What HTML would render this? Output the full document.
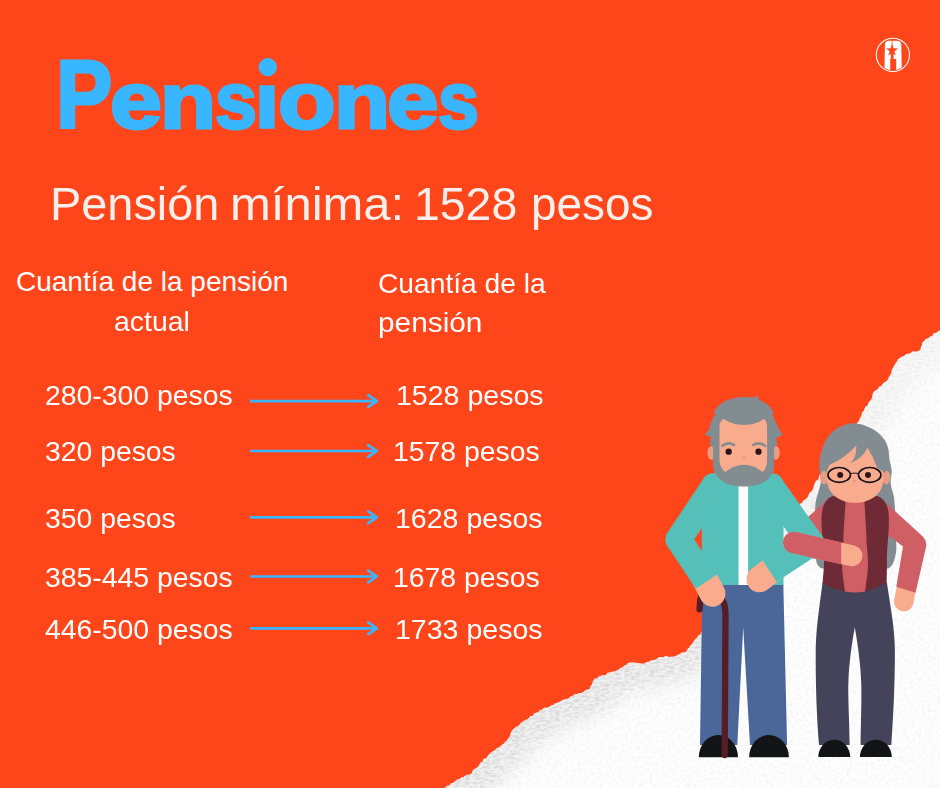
<!DOCTYPE html>
<html><head><meta charset="utf-8">
<style>
html,body{margin:0;padding:0;}
body{width:940px;height:788px;overflow:hidden;background:#ff451a;position:relative;font-family:"Liberation Sans",sans-serif;}
.t{position:absolute;white-space:nowrap;color:#fff;transform-origin:0 0;line-height:1;}
svg{position:absolute;left:0;top:0;}
#title{left:0;top:0;font-weight:bold;color:#38b6ff;-webkit-text-stroke:3px #38b6ff;}
#title span{position:absolute;line-height:1;}
#sub{left:0;top:0;font-size:46px;color:#f7efeb;}
#sub span{position:absolute;line-height:1;transform-origin:0 0;}
#h1a{left:16.0px;top:268.44px;font-size:28px;transform:scaleX(1.0);}
#h1b{left:114.47px;top:308.04px;font-size:28px;transform:scaleX(1.0143);}
#h2a{left:378.02px;top:268.92px;font-size:28.5px;transform:scaleX(0.9893);}
#h2b{left:377.92px;top:307.92px;font-size:28.5px;transform:scaleX(1.0458);}
#l1{left:44.5px;top:380.92px;font-size:28.5px;transform:scaleX(0.9958);}
#l2{left:44.51px;top:436.92px;font-size:28.5px;transform:scaleX(0.9938);}
#l3{left:44.51px;top:503.92px;font-size:28.5px;transform:scaleX(0.9938);}
#l4{left:44.5px;top:562.92px;font-size:28.5px;transform:scaleX(0.9958);}
#l5{left:44.5px;top:614.92px;font-size:28.5px;transform:scaleX(0.9958);}
#r1{left:395.51px;top:380.92px;font-size:28.5px;transform:scaleX(1.0015);}
#r2{left:393.01px;top:436.92px;font-size:28.5px;transform:scaleX(0.9959);}
#r3{left:395.49px;top:503.92px;font-size:28.5px;transform:scaleX(1.0014);}
#r4{left:393.01px;top:562.92px;font-size:28.5px;transform:scaleX(0.9959);}
#r5{left:395.49px;top:614.92px;font-size:28.5px;transform:scaleX(1.0014);}
</style></head><body>
<svg width="940" height="788" viewBox="0 0 940 788">
<defs>
<filter id="tex" x="0" y="0" width="940" height="788" filterUnits="userSpaceOnUse">
<feTurbulence type="fractalNoise" baseFrequency="0.32" numOctaves="3" seed="4" result="n"/>
<feColorMatrix in="n" type="matrix" values="0 0 0 0 0  0 0 0 0 0  0 0 0 0 0  2.2 0 0 0 -0.95" result="a"/>
<feComposite in="SourceGraphic" in2="a" operator="in"/>
</filter>
<filter id="tex2" x="0" y="0" width="940" height="788" filterUnits="userSpaceOnUse">
<feTurbulence type="fractalNoise" baseFrequency="0.2 0.45" numOctaves="3" seed="11" result="n"/>
<feColorMatrix in="n" type="matrix" values="0 0 0 0 0  0 0 0 0 0  0 0 0 0 0  3 0 0 0 -1.15" result="a"/>
<feComposite in="SourceGraphic" in2="a" operator="in"/>
</filter>
<filter id="blur8" x="0" y="0" width="940" height="788" filterUnits="userSpaceOnUse"><feGaussianBlur stdDeviation="9"/></filter>
<clipPath id="pc"><path d="M444.9 787.9 L446.7 786.1 L449.3 785.6 L450.8 783.4 L453.4 782.7 L455.3 781.1 L457.3 779.6 L459.6 779.1 L461.3 777.4 L463.7 777.1 L465.5 775.6 L467.6 774.7 L470.0 774.5 L472.0 773.2 L472.6 770.7 L474.3 769.1 L476.4 767.9 L478.4 766.6 L479.5 764.5 L480.8 762.6 L482.8 761.3 L483.7 758.8 L486.5 758.3 L487.6 756.0 L489.2 754.2 L491.0 752.6 L493.0 751.3 L495.2 750.2 L496.4 748.2 L498.7 747.5 L500.5 746.3 L502.0 744.7 L504.0 743.6 L505.3 741.6 L507.1 740.8 L508.0 738.6 L509.8 736.7 L510.4 734.3 L511.2 732.1 L512.5 730.1 L514.2 728.5 L515.8 726.9 L518.2 726.1 L519.9 724.6 L521.1 722.5 L523.3 721.5 L525.0 720.0 L527.2 719.4 L529.0 718.0 L530.4 716.1 L533.0 716.0 L534.0 713.5 L536.2 712.8 L538.4 712.1 L539.9 710.2 L542.2 709.5 L544.0 707.7 L546.7 707.8 L548.9 706.9 L551.0 705.6 L553.4 705.1 L555.2 703.2 L557.6 702.7 L559.8 701.7 L561.9 700.6 L564.0 699.4 L566.5 699.1 L568.8 698.2 L570.6 696.5 L572.9 695.8 L574.9 694.1 L577.3 694.0 L579.4 693.1 L581.7 692.9 L583.8 691.8 L585.6 690.0 L587.8 689.4 L590.1 688.8 L590.2 686.4 L591.9 684.7 L592.5 682.5 L593.4 680.4 L594.8 678.4 L597.3 678.3 L599.0 676.3 L601.3 675.7 L603.5 675.0 L606.0 674.9 L607.6 672.7 L610.0 672.5 L612.1 671.7 L614.4 671.5 L616.5 670.5 L618.6 669.8 L620.3 668.0 L622.4 667.4 L624.0 665.8 L626.3 665.0 L627.5 663.4 L630.0 662.5 L632.5 662.6 L635.0 662.8 L637.5 662.9 L640.0 663.5 L642.5 663.8 L644.9 663.6 L646.7 662.0 L649.1 661.7 L651.1 660.6 L653.3 660.0 L655.6 659.7 L657.5 658.3 L659.4 657.0 L661.7 657.1 L664.0 657.0 L666.2 655.8 L668.6 657.1 L670.9 656.8 L673.2 656.8 L675.5 656.2 L677.6 654.9 L679.9 654.0 L682.0 652.6 L684.7 652.5 L686.6 651.2 L687.6 649.1 L689.2 647.4 L690.5 645.6 L692.1 643.9 L693.4 642.0 L694.7 639.7 L696.7 637.9 L698.3 635.8 L700.5 634.2 L701.3 632.0 L703.8 631.1 L704.8 629.0 L705.5 626.7 L707.0 625.0 L708.5 623.4 L709.8 621.6 L710.8 619.5 L713.2 618.5 L714.8 616.9 L715.4 614.5 L716.7 612.7 L717.5 610.5 L718.9 608.7 L720.6 607.2 L721.8 605.3 L723.9 604.1 L724.3 601.6 L725.5 599.6 L728.2 598.8 L728.9 596.6 L729.7 594.4 L731.6 593.0 L732.2 590.7 L734.3 589.4 L736.3 588.1 L737.5 586.2 L738.6 584.2 L739.3 581.9 L740.8 580.2 L741.8 578.2 L744.0 577.1 L745.0 575.0 L746.7 573.5 L747.2 571.2 L748.3 569.3 L750.5 568.0 L752.0 566.4 L753.0 564.4 L754.2 562.6 L755.5 560.8 L756.6 558.9 L757.1 556.5 L758.8 555.0 L759.8 553.0 L760.6 550.8 L761.8 549.0 L763.4 547.5 L764.6 545.6 L766.5 544.2 L768.2 542.7 L768.7 540.3 L770.6 539.0 L772.0 537.2 L773.2 535.4 L773.5 533.0 L774.6 531.0 L775.8 529.2 L777.0 527.3 L778.3 525.5 L780.1 524.1 L782.2 522.9 L783.8 521.2 L785.0 519.1 L786.9 517.7 L788.7 516.3 L789.5 513.7 L791.9 512.8 L793.9 511.5 L795.4 509.8 L797.0 508.1 L798.3 506.1 L799.6 504.1 L801.9 503.1 L803.2 500.7 L805.6 499.3 L807.5 497.5 L808.5 494.9 L809.9 492.5 L812.1 490.7 L813.2 488.2 L814.0 485.6 L814.9 483.1 L816.0 480.9 L818.4 479.2 L819.1 476.8 L819.7 474.4 L822.0 473.2 L823.6 471.6 L824.4 469.4 L825.3 467.2 L826.9 465.6 L827.6 463.3 L828.7 461.3 L831.5 460.4 L832.3 458.3 L833.4 456.3 L835.4 454.9 L835.9 452.5 L837.9 451.1 L839.2 449.2 L839.8 446.8 L841.0 444.9 L842.3 443.1 L843.6 441.2 L845.4 439.7 L846.3 437.5 L847.8 435.8 L848.7 433.6 L851.2 432.6 L851.7 430.1 L853.2 428.4 L854.7 426.7 L856.5 425.1 L857.1 422.8 L858.8 421.2 L859.6 419.0 L860.7 417.0 L861.7 415.0 L861.9 412.6 L863.7 410.9 L864.6 408.8 L865.4 406.5 L867.9 405.3 L868.3 402.7 L870.0 401.0 L871.6 399.1 L872.3 396.6 L872.7 394.0 L873.8 391.7 L875.7 390.3 L877.9 389.2 L879.0 386.8 L881.3 385.9 L882.6 383.9 L884.3 382.3 L886.6 381.3 L887.9 379.3 L889.0 377.0 L890.3 374.9 L891.5 372.7 L891.7 370.1 L892.9 367.9 L894.1 365.7 L895.3 363.7 L896.8 361.8 L897.8 359.5 L899.9 358.1 L901.9 356.6 L904.4 355.8 L906.0 353.9 L908.3 353.8 L910.5 353.3 L912.3 351.5 L914.5 351.5 L916.9 351.5 L918.9 350.8 L920.6 349.5 L920.8 347.2 L921.9 345.2 L922.2 342.7 L924.1 341.0 L925.7 339.1 L928.3 338.3 L930.1 336.6 L932.4 335.7 L933.7 333.2 L936.2 332.8 L938.2 331.4 L940.0 329.8 L945 329 L945 795 L440 795 Z"/></clipPath>
<linearGradient id="eg" gradientUnits="userSpaceOnUse" x1="450" y1="0" x2="940" y2="0"><stop offset="0" stop-color="#fff"/><stop offset="0.5" stop-color="#fff"/><stop offset="0.75" stop-color="#777"/><stop offset="1" stop-color="#555"/></linearGradient>
<mask id="em" maskUnits="userSpaceOnUse" x="0" y="0" width="940" height="788"><path d="M444.9 787.9 L446.7 786.1 L449.3 785.6 L450.8 783.4 L453.4 782.7 L455.3 781.1 L457.3 779.6 L459.6 779.1 L461.3 777.4 L463.7 777.1 L465.5 775.6 L467.6 774.7 L470.0 774.5 L472.0 773.2 L472.6 770.7 L474.3 769.1 L476.4 767.9 L478.4 766.6 L479.5 764.5 L480.8 762.6 L482.8 761.3 L483.7 758.8 L486.5 758.3 L487.6 756.0 L489.2 754.2 L491.0 752.6 L493.0 751.3 L495.2 750.2 L496.4 748.2 L498.7 747.5 L500.5 746.3 L502.0 744.7 L504.0 743.6 L505.3 741.6 L507.1 740.8 L508.0 738.6 L509.8 736.7 L510.4 734.3 L511.2 732.1 L512.5 730.1 L514.2 728.5 L515.8 726.9 L518.2 726.1 L519.9 724.6 L521.1 722.5 L523.3 721.5 L525.0 720.0 L527.2 719.4 L529.0 718.0 L530.4 716.1 L533.0 716.0 L534.0 713.5 L536.2 712.8 L538.4 712.1 L539.9 710.2 L542.2 709.5 L544.0 707.7 L546.7 707.8 L548.9 706.9 L551.0 705.6 L553.4 705.1 L555.2 703.2 L557.6 702.7 L559.8 701.7 L561.9 700.6 L564.0 699.4 L566.5 699.1 L568.8 698.2 L570.6 696.5 L572.9 695.8 L574.9 694.1 L577.3 694.0 L579.4 693.1 L581.7 692.9 L583.8 691.8 L585.6 690.0 L587.8 689.4 L590.1 688.8 L590.2 686.4 L591.9 684.7 L592.5 682.5 L593.4 680.4 L594.8 678.4 L597.3 678.3 L599.0 676.3 L601.3 675.7 L603.5 675.0 L606.0 674.9 L607.6 672.7 L610.0 672.5 L612.1 671.7 L614.4 671.5 L616.5 670.5 L618.6 669.8 L620.3 668.0 L622.4 667.4 L624.0 665.8 L626.3 665.0 L627.5 663.4 L630.0 662.5 L632.5 662.6 L635.0 662.8 L637.5 662.9 L640.0 663.5 L642.5 663.8 L644.9 663.6 L646.7 662.0 L649.1 661.7 L651.1 660.6 L653.3 660.0 L655.6 659.7 L657.5 658.3 L659.4 657.0 L661.7 657.1 L664.0 657.0 L666.2 655.8 L668.6 657.1 L670.9 656.8 L673.2 656.8 L675.5 656.2 L677.6 654.9 L679.9 654.0 L682.0 652.6 L684.7 652.5 L686.6 651.2 L687.6 649.1 L689.2 647.4 L690.5 645.6 L692.1 643.9 L693.4 642.0 L694.7 639.7 L696.7 637.9 L698.3 635.8 L700.5 634.2 L701.3 632.0 L703.8 631.1 L704.8 629.0 L705.5 626.7 L707.0 625.0 L708.5 623.4 L709.8 621.6 L710.8 619.5 L713.2 618.5 L714.8 616.9 L715.4 614.5 L716.7 612.7 L717.5 610.5 L718.9 608.7 L720.6 607.2 L721.8 605.3 L723.9 604.1 L724.3 601.6 L725.5 599.6 L728.2 598.8 L728.9 596.6 L729.7 594.4 L731.6 593.0 L732.2 590.7 L734.3 589.4 L736.3 588.1 L737.5 586.2 L738.6 584.2 L739.3 581.9 L740.8 580.2 L741.8 578.2 L744.0 577.1 L745.0 575.0 L746.7 573.5 L747.2 571.2 L748.3 569.3 L750.5 568.0 L752.0 566.4 L753.0 564.4 L754.2 562.6 L755.5 560.8 L756.6 558.9 L757.1 556.5 L758.8 555.0 L759.8 553.0 L760.6 550.8 L761.8 549.0 L763.4 547.5 L764.6 545.6 L766.5 544.2 L768.2 542.7 L768.7 540.3 L770.6 539.0 L772.0 537.2 L773.2 535.4 L773.5 533.0 L774.6 531.0 L775.8 529.2 L777.0 527.3 L778.3 525.5 L780.1 524.1 L782.2 522.9 L783.8 521.2 L785.0 519.1 L786.9 517.7 L788.7 516.3 L789.5 513.7 L791.9 512.8 L793.9 511.5 L795.4 509.8 L797.0 508.1 L798.3 506.1 L799.6 504.1 L801.9 503.1 L803.2 500.7 L805.6 499.3 L807.5 497.5 L808.5 494.9 L809.9 492.5 L812.1 490.7 L813.2 488.2 L814.0 485.6 L814.9 483.1 L816.0 480.9 L818.4 479.2 L819.1 476.8 L819.7 474.4 L822.0 473.2 L823.6 471.6 L824.4 469.4 L825.3 467.2 L826.9 465.6 L827.6 463.3 L828.7 461.3 L831.5 460.4 L832.3 458.3 L833.4 456.3 L835.4 454.9 L835.9 452.5 L837.9 451.1 L839.2 449.2 L839.8 446.8 L841.0 444.9 L842.3 443.1 L843.6 441.2 L845.4 439.7 L846.3 437.5 L847.8 435.8 L848.7 433.6 L851.2 432.6 L851.7 430.1 L853.2 428.4 L854.7 426.7 L856.5 425.1 L857.1 422.8 L858.8 421.2 L859.6 419.0 L860.7 417.0 L861.7 415.0 L861.9 412.6 L863.7 410.9 L864.6 408.8 L865.4 406.5 L867.9 405.3 L868.3 402.7 L870.0 401.0 L871.6 399.1 L872.3 396.6 L872.7 394.0 L873.8 391.7 L875.7 390.3 L877.9 389.2 L879.0 386.8 L881.3 385.9 L882.6 383.9 L884.3 382.3 L886.6 381.3 L887.9 379.3 L889.0 377.0 L890.3 374.9 L891.5 372.7 L891.7 370.1 L892.9 367.9 L894.1 365.7 L895.3 363.7 L896.8 361.8 L897.8 359.5 L899.9 358.1 L901.9 356.6 L904.4 355.8 L906.0 353.9 L908.3 353.8 L910.5 353.3 L912.3 351.5 L914.5 351.5 L916.9 351.5 L918.9 350.8 L920.6 349.5 L920.8 347.2 L921.9 345.2 L922.2 342.7 L924.1 341.0 L925.7 339.1 L928.3 338.3 L930.1 336.6 L932.4 335.7 L933.7 333.2 L936.2 332.8 L938.2 331.4 L940.0 329.8" fill="none" stroke="url(#eg)" stroke-width="50" filter="url(#blur8)"/></mask>
</defs>
<!-- paper -->
<path d="M444.9 787.9 L446.7 786.1 L449.3 785.6 L450.8 783.4 L453.4 782.7 L455.3 781.1 L457.3 779.6 L459.6 779.1 L461.3 777.4 L463.7 777.1 L465.5 775.6 L467.6 774.7 L470.0 774.5 L472.0 773.2 L472.6 770.7 L474.3 769.1 L476.4 767.9 L478.4 766.6 L479.5 764.5 L480.8 762.6 L482.8 761.3 L483.7 758.8 L486.5 758.3 L487.6 756.0 L489.2 754.2 L491.0 752.6 L493.0 751.3 L495.2 750.2 L496.4 748.2 L498.7 747.5 L500.5 746.3 L502.0 744.7 L504.0 743.6 L505.3 741.6 L507.1 740.8 L508.0 738.6 L509.8 736.7 L510.4 734.3 L511.2 732.1 L512.5 730.1 L514.2 728.5 L515.8 726.9 L518.2 726.1 L519.9 724.6 L521.1 722.5 L523.3 721.5 L525.0 720.0 L527.2 719.4 L529.0 718.0 L530.4 716.1 L533.0 716.0 L534.0 713.5 L536.2 712.8 L538.4 712.1 L539.9 710.2 L542.2 709.5 L544.0 707.7 L546.7 707.8 L548.9 706.9 L551.0 705.6 L553.4 705.1 L555.2 703.2 L557.6 702.7 L559.8 701.7 L561.9 700.6 L564.0 699.4 L566.5 699.1 L568.8 698.2 L570.6 696.5 L572.9 695.8 L574.9 694.1 L577.3 694.0 L579.4 693.1 L581.7 692.9 L583.8 691.8 L585.6 690.0 L587.8 689.4 L590.1 688.8 L590.2 686.4 L591.9 684.7 L592.5 682.5 L593.4 680.4 L594.8 678.4 L597.3 678.3 L599.0 676.3 L601.3 675.7 L603.5 675.0 L606.0 674.9 L607.6 672.7 L610.0 672.5 L612.1 671.7 L614.4 671.5 L616.5 670.5 L618.6 669.8 L620.3 668.0 L622.4 667.4 L624.0 665.8 L626.3 665.0 L627.5 663.4 L630.0 662.5 L632.5 662.6 L635.0 662.8 L637.5 662.9 L640.0 663.5 L642.5 663.8 L644.9 663.6 L646.7 662.0 L649.1 661.7 L651.1 660.6 L653.3 660.0 L655.6 659.7 L657.5 658.3 L659.4 657.0 L661.7 657.1 L664.0 657.0 L666.2 655.8 L668.6 657.1 L670.9 656.8 L673.2 656.8 L675.5 656.2 L677.6 654.9 L679.9 654.0 L682.0 652.6 L684.7 652.5 L686.6 651.2 L687.6 649.1 L689.2 647.4 L690.5 645.6 L692.1 643.9 L693.4 642.0 L694.7 639.7 L696.7 637.9 L698.3 635.8 L700.5 634.2 L701.3 632.0 L703.8 631.1 L704.8 629.0 L705.5 626.7 L707.0 625.0 L708.5 623.4 L709.8 621.6 L710.8 619.5 L713.2 618.5 L714.8 616.9 L715.4 614.5 L716.7 612.7 L717.5 610.5 L718.9 608.7 L720.6 607.2 L721.8 605.3 L723.9 604.1 L724.3 601.6 L725.5 599.6 L728.2 598.8 L728.9 596.6 L729.7 594.4 L731.6 593.0 L732.2 590.7 L734.3 589.4 L736.3 588.1 L737.5 586.2 L738.6 584.2 L739.3 581.9 L740.8 580.2 L741.8 578.2 L744.0 577.1 L745.0 575.0 L746.7 573.5 L747.2 571.2 L748.3 569.3 L750.5 568.0 L752.0 566.4 L753.0 564.4 L754.2 562.6 L755.5 560.8 L756.6 558.9 L757.1 556.5 L758.8 555.0 L759.8 553.0 L760.6 550.8 L761.8 549.0 L763.4 547.5 L764.6 545.6 L766.5 544.2 L768.2 542.7 L768.7 540.3 L770.6 539.0 L772.0 537.2 L773.2 535.4 L773.5 533.0 L774.6 531.0 L775.8 529.2 L777.0 527.3 L778.3 525.5 L780.1 524.1 L782.2 522.9 L783.8 521.2 L785.0 519.1 L786.9 517.7 L788.7 516.3 L789.5 513.7 L791.9 512.8 L793.9 511.5 L795.4 509.8 L797.0 508.1 L798.3 506.1 L799.6 504.1 L801.9 503.1 L803.2 500.7 L805.6 499.3 L807.5 497.5 L808.5 494.9 L809.9 492.5 L812.1 490.7 L813.2 488.2 L814.0 485.6 L814.9 483.1 L816.0 480.9 L818.4 479.2 L819.1 476.8 L819.7 474.4 L822.0 473.2 L823.6 471.6 L824.4 469.4 L825.3 467.2 L826.9 465.6 L827.6 463.3 L828.7 461.3 L831.5 460.4 L832.3 458.3 L833.4 456.3 L835.4 454.9 L835.9 452.5 L837.9 451.1 L839.2 449.2 L839.8 446.8 L841.0 444.9 L842.3 443.1 L843.6 441.2 L845.4 439.7 L846.3 437.5 L847.8 435.8 L848.7 433.6 L851.2 432.6 L851.7 430.1 L853.2 428.4 L854.7 426.7 L856.5 425.1 L857.1 422.8 L858.8 421.2 L859.6 419.0 L860.7 417.0 L861.7 415.0 L861.9 412.6 L863.7 410.9 L864.6 408.8 L865.4 406.5 L867.9 405.3 L868.3 402.7 L870.0 401.0 L871.6 399.1 L872.3 396.6 L872.7 394.0 L873.8 391.7 L875.7 390.3 L877.9 389.2 L879.0 386.8 L881.3 385.9 L882.6 383.9 L884.3 382.3 L886.6 381.3 L887.9 379.3 L889.0 377.0 L890.3 374.9 L891.5 372.7 L891.7 370.1 L892.9 367.9 L894.1 365.7 L895.3 363.7 L896.8 361.8 L897.8 359.5 L899.9 358.1 L901.9 356.6 L904.4 355.8 L906.0 353.9 L908.3 353.8 L910.5 353.3 L912.3 351.5 L914.5 351.5 L916.9 351.5 L918.9 350.8 L920.6 349.5 L920.8 347.2 L921.9 345.2 L922.2 342.7 L924.1 341.0 L925.7 339.1 L928.3 338.3 L930.1 336.6 L932.4 335.7 L933.7 333.2 L936.2 332.8 L938.2 331.4 L940.0 329.8 L945 329 L945 795 L440 795 Z" fill="#fefefe"/>
<g clip-path="url(#pc)">
<rect x="430" y="320" width="510" height="468" fill="#c8c8c8" filter="url(#tex)" opacity="0.2"/>
<g mask="url(#em)">
<rect x="430" y="320" width="510" height="468" fill="#e6e6e6" opacity="0.5"/>
<rect x="430" y="320" width="510" height="468" fill="#b8b8b8" filter="url(#tex2)" opacity="0.42"/>
</g>
</g>
<g fill="none" stroke="#38b6ff" stroke-width="2.7">
<path d="M250 401.1H377"/><path d="M368.2 395.2L376.8 401.1L368.2 407.0" stroke-linecap="round" stroke-linejoin="round"/>
<path d="M250 451.0H377"/><path d="M368.2 445.1L376.8 451.0L368.2 456.9" stroke-linecap="round" stroke-linejoin="round"/>
<path d="M250 517.3H377"/><path d="M368.2 511.4L376.8 517.3L368.2 523.2" stroke-linecap="round" stroke-linejoin="round"/>
<path d="M250 576.5H377"/><path d="M368.2 570.6L376.8 576.5L368.2 582.4" stroke-linecap="round" stroke-linejoin="round"/>
<path d="M250 628.3H377"/><path d="M368.2 622.4L376.8 628.3L368.2 634.2" stroke-linecap="round" stroke-linejoin="round"/>
</g>
<circle cx="267.8" cy="67.15" r="9.1" fill="#38b6ff"/>
<g id="logo">
<circle cx="892.9" cy="54.9" r="16.6" fill="none" stroke="#fff" stroke-width="1.1"/>
<clipPath id="lc"><circle cx="892.9" cy="54.9" r="15.2"/></clipPath>
<g clip-path="url(#lc)">
<path d="M884.4 72 L884.9 45 Q885 40.8 889 40.8 L897 40.8 Q901.2 40.8 901.3 45 L901.8 72 Z" fill="#fff"/>
<path d="M891.7 40 H892.5 V50 H891.7Z M890.7 52 H893.6 V59 H890.7Z M890.2 58.9 H896.2 V72 H890.2Z" fill="#ff451a"/>
<path d="M892.1 43.9 L893.6 48.3 L898.2 48.4 L894.5 51.2 L895.9 55.6 L892.1 53 L888.3 55.6 L889.7 51.2 L886 48.4 L890.6 48.3 Z" fill="#ff451a"/>
</g>
</g>

<g id="woman-back">
<!-- hair back -->
<path d="M853.9 423.2 C844 423 831 430 825.9 440.2 C821.5 448 819 458 819.4 468.2 C819.6 473 821.2 477 820.9 481.2 C820.5 487 816.5 496 815.5 502.8 C814.5 515 814 540 816.2 561 C817 565 819.5 568 822.6 568.5 L888.4 568.5 C892 566.5 894.5 562 896 552.4 C897 546 895.5 535 895.3 525 C895.2 518 895.3 512 894.9 507.1 C894.5 503 894.5 500 893.8 496.3 C892.8 491 890.3 486 890.6 481.2 C890.9 477 892 474 891.7 470.4 C891.3 466 890 463 889.5 459.6 C889 455 889 451 888 447.7 C887 444 885.5 441 883 438 C880 434 876 430.5 871.2 428.3 C866 425.5 860 423.3 853.9 423.2 Z" fill="#838c91"/>
<!-- left upper arm (behind man) -->
<path d="M833 495 L808.5 516.6 L794 529 L794 556 L826 560 Z" fill="#cf5f65"/>
<!-- right hand -->
<path d="M906 589.8 L903.8 601.6" stroke="#f9ab8d" stroke-width="19.5" stroke-linecap="round" fill="none"/>
<!-- right arm -->
<path d="M880 499 L887.3 504 L922.8 536.6 Q927.5 541.5 926 547 L915.6 592.8 L896.3 586.8 L903 546.5 L884 532 Z" fill="#cf5f65"/>
<!-- pants -->
<path d="M822.6 582 L886.8 582 C891 610 895 630 894.9 652 C894.8 690 893 720 891.3 745 L860.6 745 C861 715 861.8 700 861.2 682 C860.5 662 857 640 854.8 627.3 C852.5 640 849 662 848.4 682 C847.9 700 849.3 715 849.7 745 L819 745 C817 720 815.6 690 815.7 652 C815.8 630 819 610 822.6 582 Z" fill="#44435a"/>
<!-- shoes -->
<path d="M818.3 757 A15.95 17.3 0 0 1 850.2 757 Z" fill="#121416"/>
<path d="M859.9 757 A15.95 17.3 0 0 1 891.8 757 Z" fill="#121416"/>
<!-- vest -->
<path d="M833 496 Q823.5 499 821.8 513 C820.3 533 825 548 824 565 L822.6 583 Q855 601.5 886.6 582.5 L887 565 C886 548 890 533 888.6 513 Q887 499 877 496 Z" fill="#6f2b35"/>
<!-- shirt -->
<path d="M845.6 498 L864.3 498 C865 515 866.3 528 866.5 539 C866.8 550 868.2 556 868 564.5 C867.7 575 866 583 865 591.5 Q855 593.5 844.9 591.5 C844 583 842.3 575 842 564.5 C841.8 556 843.2 550 843.4 539 C843.6 528 845 515 845.6 498 Z" fill="#cf5f65"/>
<!-- ears -->
<ellipse cx="824.3" cy="477.5" rx="4.2" ry="6.7" fill="#e89e82"/>
<ellipse cx="886.2" cy="477.5" rx="4.2" ry="6.7" fill="#e89e82"/>
<!-- face -->
<path d="M827.2 455 Q827.2 442 840 442 L870 442 Q883.1 442 883.1 455 L883.1 480 C883.1 494 870 502.8 855.1 502.8 C840 502.8 827.2 494 827.2 480 Z" fill="#f9ab8d"/>
<!-- fringe -->
<path d="M825.7 473 L829.5 464.8 Q845.1 458.1 856.3 445.4 Q857 456.6 850.3 463.3 Q863 458.1 867.4 447.7 Q873.4 456.6 877.1 467.8 L885.3 473 L885.5 450 L872 433 L855 429 L838 433 L825.5 450 Z" fill="#838c91"/>
<!-- nose -->
<path d="M852.3 480 L856.3 480 L854.3 482.4 Z" fill="#e8957a"/>
<!-- eyes -->
<circle cx="840.2" cy="474.9" r="3" fill="#2d1418"/>
<circle cx="868" cy="474.9" r="3" fill="#2d1418"/>
<!-- glasses -->
<g fill="none" stroke="#17131a" stroke-width="1.7">
<ellipse cx="839.2" cy="474.9" rx="11.2" ry="7.4"/>
<ellipse cx="869.7" cy="474.9" rx="11.2" ry="7.4"/>
<path d="M850.4 473.6 Q854.4 472.4 858.5 473.6" stroke-width="1"/>
</g>
</g>
<g id="man">
<!-- pants -->
<path d="M702.3 584 L783.3 584 L787.1 745 L750 745 L743.2 627.3 L737.3 745 L700 745 Z" fill="#4b6698"/>
<!-- shoes -->
<path d="M698.8 757.3 A19.6 22.3 0 0 1 738 757.3 Z" fill="#121416"/>
<path d="M749.1 757.3 A19.9 22.2 0 0 1 788.9 757.3 Z" fill="#121416"/>
<!-- cane -->
<path d="M724.7 755 L725.5 615 C725.5 603 722 596 715 594 C706 591.5 700.6 594 700.1 601 L699.6 609.4" fill="none" stroke="#551e25" stroke-width="6.3" stroke-linecap="round"/>
<!-- torso -->
<path d="M701.8 486 Q701.8 473.3 715 473.3 L770 473.3 Q783.5 473.3 783.5 486 L783.5 585 L701.8 585 Z" fill="#55c0ba"/>
<rect x="738.5" y="480" width="9.6" height="105" fill="#ffffff"/>
<!-- arms -->
<g fill="none" stroke-width="26" stroke-linecap="round">
<path d="M704 577.5 L712.4 593.6" stroke="#f9ab8d"/>
<path d="M773.5 568.2 L759.5 579.3" stroke="#f9ab8d"/>
<path d="M714.1 486.3 L678.6 539.4" stroke="#55c0ba"/>
<path d="M771 486.3 L811.4 543.3" stroke="#55c0ba"/>
</g>
<path d="M689.43 532.2 L717.43 574.3 L695.77 588.7 L667.77 546.6 A13 13 0 0 1 689.43 532.2 Z" fill="#55c0ba"/>
<path d="M818.55 554.16 L776.65 581.76 L762.35 560.04 L804.25 532.44 A13 13 0 0 1 818.55 554.16 Z" fill="#55c0ba"/>
<!-- ears -->
<ellipse cx="711.6" cy="452.8" rx="4.2" ry="6.9" fill="#e89e82"/>
<ellipse cx="775.7" cy="452.8" rx="4.2" ry="6.9" fill="#e89e82"/>
<!-- hair + beard -->
<path d="M744 397 L754.5 397.6 L757.1 394.7 L759 399.9 C766 402 771 407 773.8 413.3 L774.2 414.8 L771.6 413.3 C774 418 776 424 776.8 423.7 C778.5 428 779.5 431.2 782.8 434.2 C780 436.5 778 437.5 776.1 437.9 C776.5 440 777 442 777.6 444.6 L774.1 447.6 L774.1 465.4 C774 475 767 482 757.5 484.8 C752 486.3 748 486.6 744 486.6 C740 486.6 736 486.3 730.6 484.8 C721 482 713.2 475 713.1 465.4 L713.1 447.6 L709.8 444.6 C710 442 710.6 440 711.3 437.1 C709 436.5 707 435.5 704.6 434.2 C707.5 431.5 708.7 429.5 709 429.7 C710 424 712 419 715.7 414 L713.5 413.3 C716 407 721 402.5 727.7 399.9 C733 398 738 397 744 397 Z" fill="#838c91"/>
<!-- face -->
<path d="M719.5 427 C719.5 422 722 419.5 723.9 419 C729 422.5 736 424.9 744 424.9 C752 424.9 759 422.5 763.4 419 C765.5 419.5 767.1 422 767.1 427 L767.1 461 Q766.9 468 762.6 472.2 C757.5 467.6 751 464.7 744 464.7 C737 464.7 730.5 467.6 725.4 472.2 Q720 468 719.5 461 Z" fill="#f9ab8d"/>
<!-- eyebrows -->
<g fill="none" stroke="#838c91" stroke-width="2.7" stroke-linecap="round">
<path d="M722.4 445.8 Q728 441.3 734 444.9"/>
<path d="M753.4 444.9 Q759.4 441.3 765 445.8"/>
</g>
<circle cx="728.7" cy="451.7" r="3.15" fill="#2d1418"/>
<circle cx="758.5" cy="451.7" r="3.15" fill="#2d1418"/>
<path d="M741.8 457.2 L746.3 457.2 L744 459.6 Z" fill="#e8957a"/>
</g>
<g id="woman-front">
<clipPath id="slv"><rect x="770" y="520" width="71.2" height="60"/></clipPath>
<path d="M793.7 542.5 L852 555.7" stroke="#f9ab8d" stroke-width="21" stroke-linecap="round" fill="none"/>
<path d="M793.7 542.5 L852 555.7" stroke="#cf5f65" stroke-width="21.4" stroke-linecap="round" fill="none" clip-path="url(#slv)"/>
</g>

</svg>
<div class="t" id="title"><span style="left:56.34px;top:49.23px;font-size:92px;transform-origin:0 77.88px;transform:scale(0.9168,1.0578)">P</span><span style="left:109.80px;top:59.13px;font-size:82px;transform-origin:0 69.41px;transform:scale(1.1383,0.9805)">e</span><span style="left:160.22px;top:58.81px;font-size:82px;transform-origin:0 69.41px;transform:scale(1.1179,0.9525)">n</span><span style="left:215.30px;top:59.17px;font-size:82px;transform-origin:0 69.41px;transform:scale(0.9195,0.9758)">s</span><span style="left:255.14px;top:59.33px;font-size:82px;transform-origin:0 69.41px;transform:scale(1.0633,0.9517);clip-path:inset(24px -9px -9px -9px)">i</span><span style="left:278.14px;top:59.10px;font-size:82px;transform-origin:0 69.41px;transform:scale(1.1502,0.9800)">o</span><span style="left:333.52px;top:58.81px;font-size:82px;transform-origin:0 69.41px;transform:scale(1.1179,0.9525)">n</span><span style="left:387.41px;top:59.14px;font-size:82px;transform-origin:0 69.41px;transform:scale(1.1314,0.9805)">e</span><span style="left:438.41px;top:59.17px;font-size:82px;transform-origin:0 69.41px;transform:scale(0.8995,0.9758)">s</span></div>
<div class="t" id="sub"><span style="left:49.92px;top:180.83px;transform:scaleX(1.0189)">Pensión</span> <span style="left:229.82px;top:180.83px;transform:scaleX(1.0649)">mínima:</span> <span style="left:413.96px;top:180.83px;transform:scaleX(1.0084)">1528</span> <span style="left:531.01px;top:180.83px;transform:scaleX(0.9966)">pesos</span></div>
<div class="t" id="h1a">Cuantía de la pensión</div>
<div class="t" id="h1b">actual</div>
<div class="t" id="h2a">Cuantía de la</div>
<div class="t" id="h2b">pensión</div>
<div class="t" id="l1">280-300 pesos</div>
<div class="t" id="l2">320 pesos</div>
<div class="t" id="l3">350 pesos</div>
<div class="t" id="l4">385-445 pesos</div>
<div class="t" id="l5">446-500 pesos</div>
<div class="t" id="r1">1528 pesos</div>
<div class="t" id="r2">1578 pesos</div>
<div class="t" id="r3">1628 pesos</div>
<div class="t" id="r4">1678 pesos</div>
<div class="t" id="r5">1733 pesos</div>
</body></html>
